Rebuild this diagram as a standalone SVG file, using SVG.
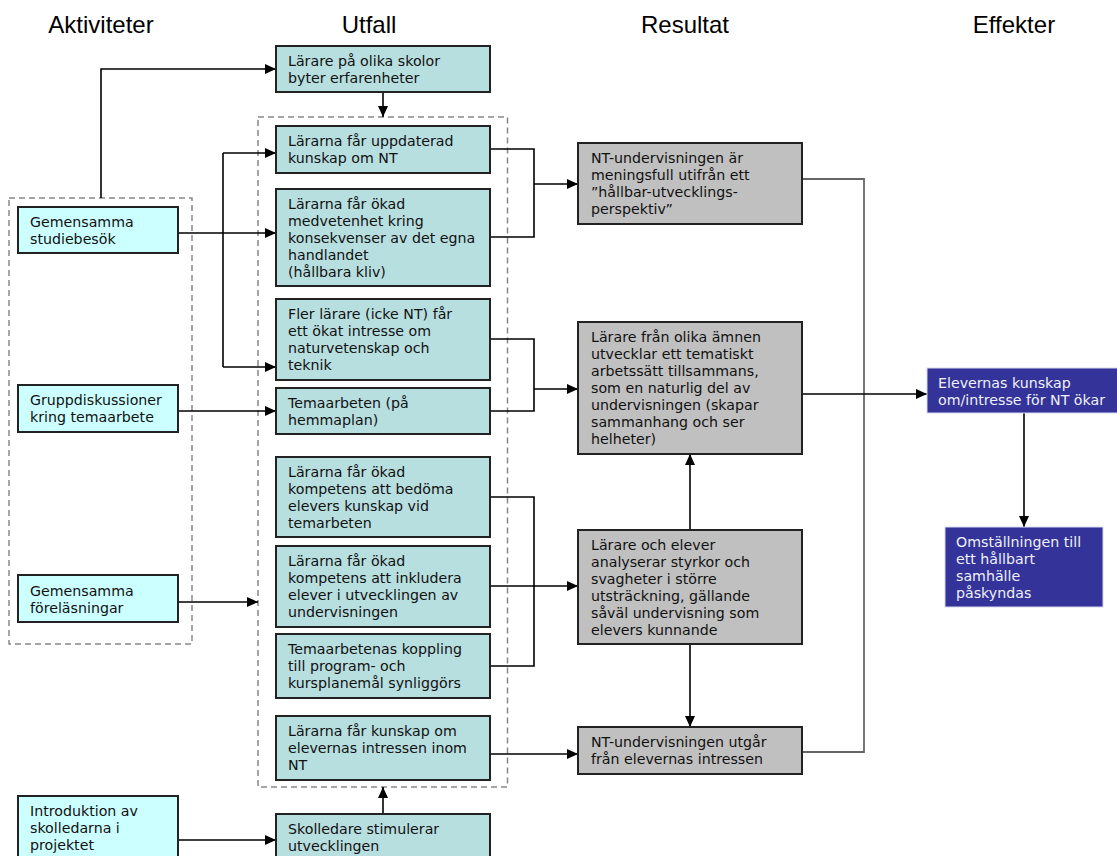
<svg xmlns="http://www.w3.org/2000/svg" width="1117" height="856" viewBox="0 0 1117 856">
<defs>
<marker id="ah" markerUnits="userSpaceOnUse" markerWidth="11" markerHeight="10" refX="11" refY="5" orient="auto"><path d="M0,0 L11,5 L0,10 z" fill="#000"/></marker>
<style>
.hdr{font-family:"Liberation Sans",Arial,sans-serif;font-size:24px;fill:#000;text-anchor:middle}
.t{font-family:"DejaVu Sans",Verdana,sans-serif;font-size:14.2px;fill:#111}
.tw{font-family:"DejaVu Sans",Verdana,sans-serif;font-size:14.2px;fill:#f0f0f8}
.act{fill:#ccffff;stroke:#222;stroke-width:2}
.out{fill:#b8dfe0;stroke:#222;stroke-width:2}
.res{fill:#c0c0c0;stroke:#222;stroke-width:2}
.eff{fill:#333399;stroke:#d8d8ee;stroke-width:1}
.grp{fill:none;stroke:#888;stroke-width:1.5;stroke-dasharray:6 4}
.c{fill:none;stroke:#000;stroke-width:1.6}
.ca{fill:none;stroke:#000;stroke-width:1.6;marker-end:url(#ah)}
.cg{fill:none;stroke:#666;stroke-width:1.8}
</style>
</defs>
<rect width="1117" height="856" fill="#fff"/>
<g id="headers">
<text class="hdr" x="101" y="33">Aktiviteter</text>
<text class="hdr" x="369" y="33">Utfall</text>
<text class="hdr" x="685" y="33">Resultat</text>
<text class="hdr" x="1014" y="33">Effekter</text>
</g>
<g id="groups">
<rect class="grp" x="9" y="198" width="183" height="446"/>
<rect class="grp" x="258" y="117" width="249.5" height="670"/>
</g>
<g id="connectors">
<path class="ca" d="M101,198 V69 H276"/>
<path class="ca" d="M383,92 V117"/>
<path class="ca" d="M178,233 H276"/>
<path class="c" d="M223,153 V367"/>
<path class="ca" d="M223,153 H276"/>
<path class="ca" d="M223,367 H276"/>
<path class="ca" d="M178,411 H276"/>
<path class="ca" d="M178,602 H258"/>
<path class="ca" d="M178,840 H276"/>
<path class="ca" d="M383,814 V787"/>
<path class="c" d="M490,149 H534 V237 H490"/>
<path class="ca" d="M534,184 H578"/>
<path class="c" d="M490,339 H534 V411 H490"/>
<path class="ca" d="M534,389 H578"/>
<path class="c" d="M490,497 H534 V666 H490"/>
<path class="ca" d="M490,586 H578"/>
<path class="ca" d="M490,754 H578"/>
<path class="ca" d="M690,530 V454"/>
<path class="ca" d="M690,644 V727"/>
<path class="cg" d="M802,179 H864 V752 H802"/>
<path class="ca" d="M802,394 H927"/>
<path class="ca" d="M1024,413 V527"/>
</g>
<g id="a1"><rect class="act" x="18" y="207" width="160" height="46"/><text class="t" x="30" y="227">Gemensamma</text><text class="t" x="30" y="244">studiebesök</text></g>
<g id="a2"><rect class="act" x="18" y="385" width="160" height="47"/><text class="t" x="30" y="405">Gruppdiskussioner</text><text class="t" x="30" y="422">kring temaarbete</text></g>
<g id="a3"><rect class="act" x="18" y="575" width="160" height="47"/><text class="t" x="30" y="596">Gemensamma</text><text class="t" x="30" y="613">föreläsningar</text></g>
<g id="a4"><rect class="act" x="18" y="796" width="160" height="70"/><text class="t" x="30" y="816">Introduktion av</text><text class="t" x="30" y="833">skolledarna i</text><text class="t" x="30" y="850">projektet</text></g>
<g id="u1"><rect class="out" x="276" y="46" width="214" height="46"/><text class="t" x="288" y="66">Lärare på olika skolor</text><text class="t" x="288" y="83">byter erfarenheter</text></g>
<g id="u2"><rect class="out" x="276" y="126" width="214" height="47"/><text class="t" x="288" y="146">Lärarna får uppdaterad</text><text class="t" x="288" y="163">kunskap om NT</text></g>
<g id="u3"><rect class="out" x="276" y="189" width="214" height="97"/><text class="t" x="288" y="209">Lärarna får ökad</text><text class="t" x="288" y="226">medvetenhet kring</text><text class="t" x="288" y="243">konsekvenser av det egna</text><text class="t" x="288" y="260">handlandet</text><text class="t" x="288" y="277">(hållbara kliv)</text></g>
<g id="u4"><rect class="out" x="276" y="299" width="214" height="81"/><text class="t" x="288" y="319">Fler lärare (icke NT) får</text><text class="t" x="288" y="336">ett ökat intresse om</text><text class="t" x="288" y="353">naturvetenskap och</text><text class="t" x="288" y="370">teknik</text></g>
<g id="u5"><rect class="out" x="276" y="388" width="214" height="46"/><text class="t" x="288" y="408">Temaarbeten (på</text><text class="t" x="288" y="425">hemmaplan)</text></g>
<g id="u6"><rect class="out" x="276" y="457" width="214" height="80"/><text class="t" x="288" y="477">Lärarna får ökad</text><text class="t" x="288" y="494">kompetens att bedöma</text><text class="t" x="288" y="511">elevers kunskap vid</text><text class="t" x="288" y="528">temarbeten</text></g>
<g id="u7"><rect class="out" x="276" y="546" width="214" height="81"/><text class="t" x="288" y="566">Lärarna får ökad</text><text class="t" x="288" y="583">kompetens att inkludera</text><text class="t" x="288" y="600">elever i utvecklingen av</text><text class="t" x="288" y="617">undervisningen</text></g>
<g id="u8"><rect class="out" x="276" y="634" width="214" height="64"/><text class="t" x="288" y="654">Temaarbetenas koppling</text><text class="t" x="288" y="671">till program- och</text><text class="t" x="288" y="688">kursplanemål synliggörs</text></g>
<g id="u9"><rect class="out" x="276" y="716" width="214" height="64"/><text class="t" x="288" y="736">Lärarna får kunskap om</text><text class="t" x="288" y="753">elevernas intressen inom</text><text class="t" x="288" y="770">NT</text></g>
<g id="u10"><rect class="out" x="276" y="814" width="214" height="52"/><text class="t" x="288" y="834">Skolledare stimulerar</text><text class="t" x="288" y="851">utvecklingen</text></g>
<g id="r1"><rect class="res" x="578" y="143" width="224" height="81"/><text class="t" x="591" y="163">NT-undervisningen är</text><text class="t" x="591" y="180">meningsfull utifrån ett</text><text class="t" x="591" y="197">”hållbar-utvecklings-</text><text class="t" x="591" y="214">perspektiv”</text></g>
<g id="r2"><rect class="res" x="578" y="322" width="224" height="132"/><text class="t" x="591" y="342">Lärare från olika ämnen</text><text class="t" x="591" y="359">utvecklar ett tematiskt</text><text class="t" x="591" y="376">arbetssätt tillsammans,</text><text class="t" x="591" y="393">som en naturlig del av</text><text class="t" x="591" y="410">undervisningen (skapar</text><text class="t" x="591" y="427">sammanhang och ser</text><text class="t" x="591" y="444">helheter)</text></g>
<g id="r3"><rect class="res" x="578" y="530" width="224" height="114"/><text class="t" x="591" y="550">Lärare och elever</text><text class="t" x="591" y="567">analyserar styrkor och</text><text class="t" x="591" y="584">svagheter i större</text><text class="t" x="591" y="601">utsträckning, gällande</text><text class="t" x="591" y="618">såväl undervisning som</text><text class="t" x="591" y="635">elevers kunnande</text></g>
<g id="r4"><rect class="res" x="578" y="727" width="224" height="47"/><text class="t" x="591" y="747">NT-undervisningen utgår</text><text class="t" x="591" y="764">från elevernas intressen</text></g>
<g id="e1"><rect class="eff" x="927" y="368" width="192" height="45"/><text class="tw" x="938" y="388">Elevernas kunskap</text><text class="tw" x="938" y="405">om/intresse för NT ökar</text></g>
<g id="e2"><rect class="eff" x="945" y="527" width="158" height="80"/><text class="tw" x="956" y="547">Omställningen till</text><text class="tw" x="956" y="564">ett hållbart</text><text class="tw" x="956" y="581">samhälle</text><text class="tw" x="956" y="598">påskyndas</text></g>
</svg>
